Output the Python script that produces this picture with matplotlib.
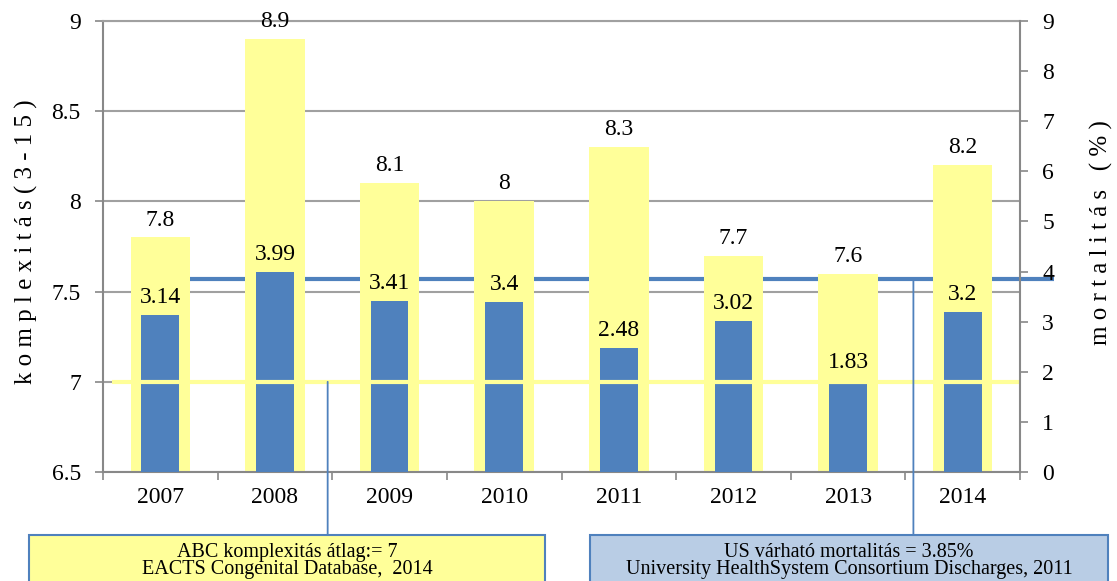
import matplotlib
matplotlib.use('Agg')
import matplotlib.pyplot as plt
import numpy as np
from matplotlib import transforms
from matplotlib.patches import Rectangle, ConnectionPatch

years = ['2007', '2008', '2009', '2010', '2011', '2012', '2013', '2014']
complexity = [7.8, 8.9, 8.1, 8.0, 8.3, 7.7, 7.6, 8.2]
mortality = [3.14, 3.99, 3.41, 3.4, 2.48, 3.02, 1.83, 3.2]
abc_avg = 7
us_mortality = 3.85

YELLOW = '#FFFF99'
BLUE = '#4F81BD'
GRID = '#A0A0A0'
SPINE = '#888888'

plt.rcParams['font.family'] = ['Liberation Serif', 'DejaVu Serif']

W, H = 1117, 581
fig = plt.figure(figsize=(W / 100, H / 100), dpi=100)
ax = fig.add_axes([103 / W, 1 - 472 / H, (1020 - 103) / W, (472 - 21) / H])
ax2 = ax.twinx()

ax.set_xlim(-0.5, 7.5)
ax.set_ylim(6.5, 9)
ax2.set_ylim(0, 9)
x = np.arange(len(years))
mort = ax2.transData

# everything lives on ax so the z-order can interleave both scales
ax.bar(x, complexity, width=0.52, color=YELLOW, zorder=2)
ax.bar(x, mortality, width=0.33, color=BLUE, zorder=3, transform=mort)
ax.plot([-0.42, 7.5], [abc_avg, abc_avg], color=YELLOW, lw=3, zorder=4,
        solid_capstyle='butt')
ax.plot([0, 7.8], [us_mortality, us_mortality], color=BLUE, lw=3, zorder=1.5,
        solid_capstyle='butt', clip_on=False, transform=mort)

for i, v in enumerate(complexity):
    ax.annotate(f'{v:g}', (i, v), xytext=(0, 5), textcoords='offset points',
                ha='center', va='bottom', fontsize=17, zorder=6)
for i, v in enumerate(mortality):
    ax.annotate(f'{v:g}', (i, v), xycoords=mort, xytext=(0, 5),
                textcoords='offset points', ha='center', va='bottom',
                fontsize=17, zorder=6)

# axes styling
ax.set_yticks([6.5, 7, 7.5, 8, 8.5, 9])
ax.set_yticklabels(['6.5', '7', '7.5', '8', '8.5', '9'])
ax.yaxis.grid(True, color=GRID, lw=1.5)
ax.set_axisbelow(True)
ax.set_xticks(x)
ax.set_xticklabels(years)
ax.set_xticks(np.arange(-0.5, 8, 1), minor=True)
ax.tick_params(axis='x', which='major', length=0, pad=11, labelsize=17)
ax.tick_params(axis='x', which='minor', length=6, color=SPINE, width=1.2)
ax.tick_params(axis='y', length=6, color=SPINE, width=1.2, pad=10, labelsize=17)
ax2.set_yticks(range(10))
ax2.tick_params(axis='y', length=6, color=SPINE, width=1.2, pad=10, labelsize=17)

for s in ['left', 'bottom']:
    ax.spines[s].set_color(SPINE)
    ax.spines[s].set_linewidth(1.5)
ax.spines['top'].set_color(GRID)
ax.spines['top'].set_linewidth(1.5)
ax.spines['right'].set_visible(False)
for s in ['left', 'top', 'bottom']:
    ax2.spines[s].set_visible(False)
ax2.spines['right'].set_color(SPINE)
ax2.spines['right'].set_linewidth(1.5)

ax.set_ylabel('k o m p l e x i t á s ( 3 - 1 5 )', fontsize=18)
ax.yaxis.set_label_coords((38 - 103) / 917, 0.51)
ax2.set_ylabel('m o r t a l i t á s   ( % )', fontsize=18)
ax2.yaxis.set_label_coords((1090 - 103) / 917, 0.532)

# source boxes under the chart
box_top = 1 - 535 / H
fig.add_artist(Rectangle((29 / W, -0.05), (545 - 29) / W, box_top + 0.05,
                         transform=fig.transFigure, facecolor=YELLOW,
                         edgecolor=BLUE, lw=1.5))
fig.add_artist(Rectangle((590 / W, -0.05), (1108 - 590) / W, box_top + 0.05,
                         transform=fig.transFigure, facecolor='#B9CDE5',
                         edgecolor=BLUE, lw=1.5))
box_font = dict(ha='center', va='center', fontsize=14.5, linespacing=0.88)
fig.text((29 + 545) / 2 / W, 1 - 561 / H,
         'ABC komplexitás átlag:= 7\nEACTS Congenital Database,  2014',
         **box_font)
fig.text((590 + 1108) / 2 / W, 1 - 561 / H,
         'US várható mortalitás = 3.85%\n'
         'University HealthSystem Consortium Discharges, 2011',
         **box_font)

to_box = transforms.blended_transform_factory(ax.transData, fig.transFigure)
fig.add_artist(ConnectionPatch((1.46, abc_avg), (1.46, box_top),
                               coordsA=ax.transData, coordsB=to_box,
                               color=BLUE, lw=1.3, zorder=5))
fig.add_artist(ConnectionPatch((6.57, us_mortality), (6.57, box_top),
                               coordsA=mort, coordsB=to_box,
                               color=BLUE, lw=1.3, zorder=5))

fig.savefig('out.png', dpi=100)
